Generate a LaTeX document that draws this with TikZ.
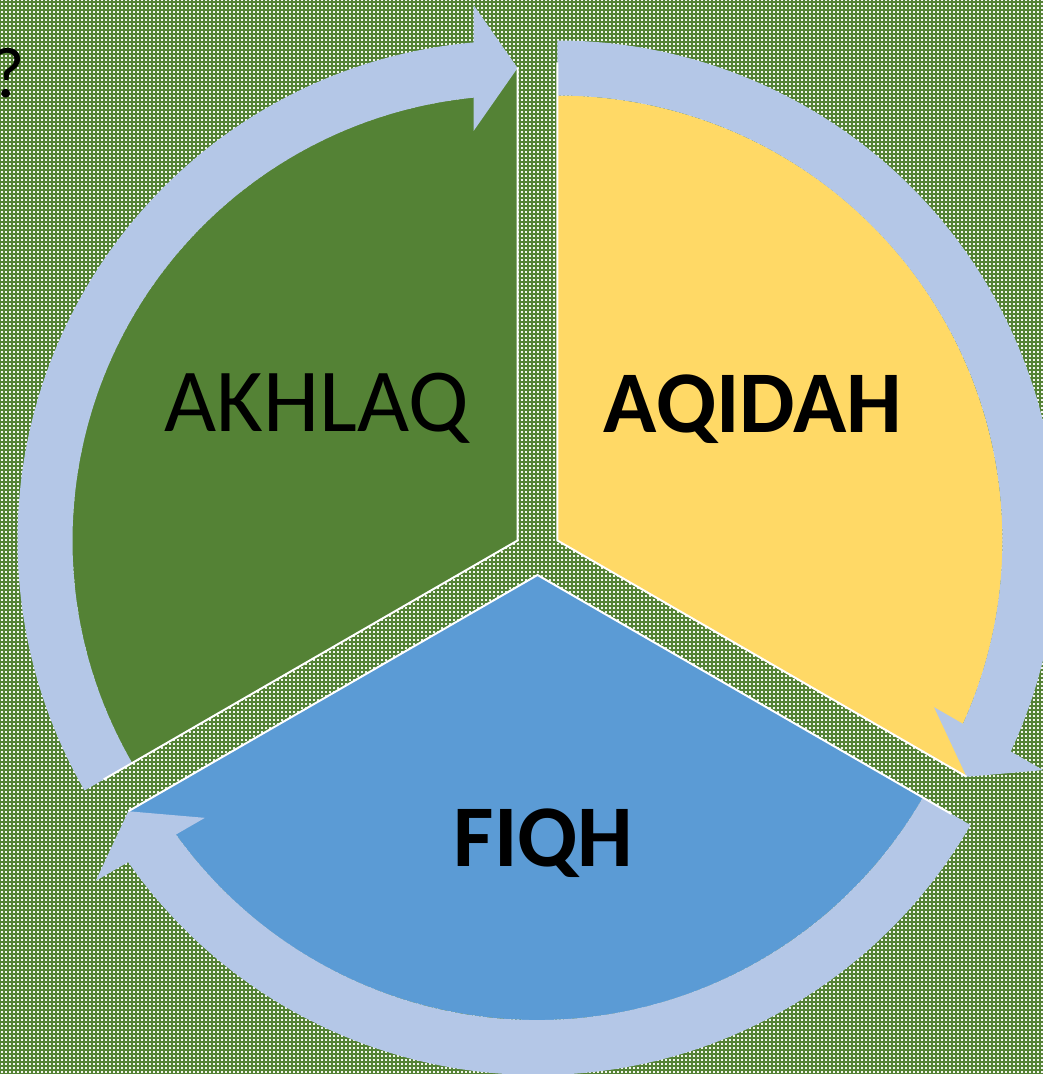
\documentclass[tikz,border=0pt]{standalone}
\usepackage{fontspec}
\setmainfont{Carlito}
\usetikzlibrary{calc,patterns}
\definecolor{bggreen}{HTML}{548235}
\definecolor{segG}{HTML}{548235}
\definecolor{segY}{HTML}{FFD966}
\definecolor{segB}{HTML}{5B9BD5}
\definecolor{arrowblue}{HTML}{B4C7E7}
\definecolor{dotwhite}{HTML}{F2F5EE}
\pgfdeclarepatternformonly{wdots}{\pgfqpoint{-0.1pt}{-0.1pt}}{\pgfqpoint{4.1pt}{4.1pt}}{\pgfqpoint{4pt}{4pt}}{%
  \pgfpathrectangle{\pgfqpoint{1pt}{1pt}}{\pgfqpoint{2pt}{2pt}}\pgfusepath{fill}}
% #1 centre, #2 tail angle, #3 tip angle, #4 colour
\newcommand\cyclesegment[4]{%
  \pgfmathsetmacro\segend{#3+4}%
  \fill[#4] (#1) -- ($(#1)+(#3:472.5)$) -- ($(#1)+(\segend:445)$)
     arc[start angle=\segend,end angle=#2,radius=445] -- cycle;
}
\newcommand\cycleedges[3]{%
  \draw[edgeline] ($(#1)+(#3:472.5)$) -- (#1) -- ($(#1)+(#2:478)$);
}
\newcommand\cyclearrow[3]{%
  \pgfmathsetmacro\bandend{#3+4}%
  \fill[arrowblue] ($(#1)+(#2:445)$) arc[start angle=#2,end angle=\bandend,radius=445]
     -- ($(#1)+(\bandend:500)$) arc[start angle=\bandend,end angle=#2,radius=500] -- cycle;
  \fill[arrowblue] ($(#1)+(#3:472.5)$) -- ($(#1)+(#3:535.5)+(#3+90:44)$)
     -- ($(#1)+(#3:409.5)+(#3+90:44)$) -- cycle;
}
\tikzset{
  edgeline/.style={draw=white, line width=2pt, line join=miter},
  bigtext/.style={font=\fontsize{88}{100}\selectfont, text=black, anchor=base, inner sep=0pt},
}
\begin{document}
\begin{tikzpicture}[x=1pt,y=1pt]
  \useasboundingbox (-537.5,-522) rectangle (505.5,552);
  \fill[bggreen] (-537.5,-522) rectangle (505.5,552);
  \fill[pattern=wdots, pattern color=dotwhite] (-537.5,-522) rectangle (505.5,552);
  \coordinate (G) at (150:23);
  \coordinate (Y) at (30:23);
  \coordinate (B) at (270:23);
  % segments
  \cyclesegment{G}{210}{90}{segG}
  \cyclesegment{Y}{90}{-30}{segY}
  \cyclesegment{B}{330}{210}{segB}
  % circular arrows
  \cyclearrow{G}{210}{90}
  \cyclearrow{Y}{90}{-30}
  \cyclearrow{B}{330}{210}
  % white edges
  \cycleedges{G}{210}{90}
  \cycleedges{Y}{90}{-30}
  \cycleedges{B}{330}{210}
  % labels
  \node[bigtext, font=\fontsize{90}{100}\selectfont] (akhlaq) at (-220.5,120) {AKHLAQ};
  \node[bigtext, font=\fontsize{88}{100}\selectfont\bfseries] (aqidah) at (215.5,119) {AQIDAH};
  \node[bigtext, font=\fontsize{88}{100}\selectfont\bfseries] (fiqh) at (6,-314) {FIQH};
  \node[font=\fontsize{72}{80}\selectfont, anchor=base east, inner sep=0pt] (q) at (-512.5,454) {?};
\end{tikzpicture}
\end{document}
